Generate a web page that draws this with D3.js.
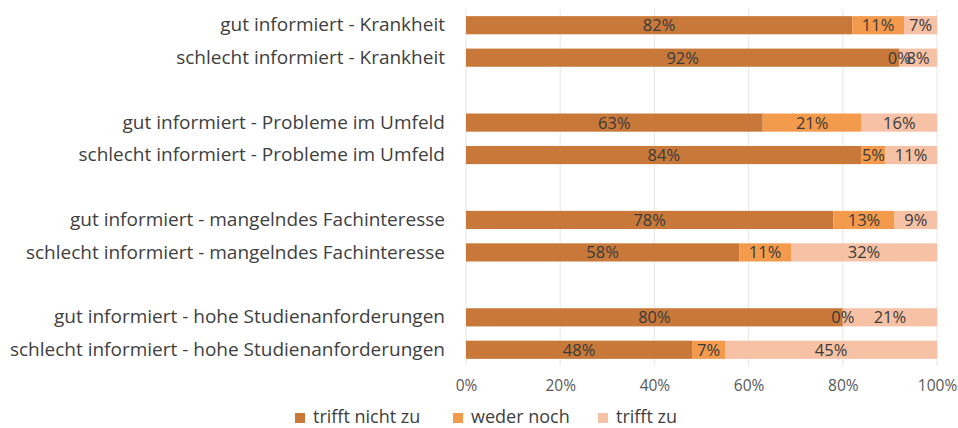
<!DOCTYPE html>
<html>
<head>
<meta charset="utf-8">
<script src="https://cdn.jsdelivr.net/npm/d3@7"></script>
<style>
  body { margin: 0; background: #fff; }
  text { font-family: "Open Sans", sans-serif; }
</style>
</head>
<body>
<div id="chart"></div>
<script>
// categories, blank strings are the gaps between the groups
let categories = [
    "gut informiert - Krankheit",
    "schlecht informiert - Krankheit",
    "",
    "gut informiert - Probleme im Umfeld",
    "schlecht informiert - Probleme im Umfeld",
    " ",
    "gut informiert - mangelndes Fachinteresse",
    "schlecht informiert - mangelndes Fachinteresse",
    "  ",
    "gut informiert - hohe Studienanforderungen",
    "schlecht informiert - hohe Studienanforderungen"
];
let seriesNames = ["trifft nicht zu", "weder noch", "trifft zu"];
let trifftNicht = [82, 92, null, 63, 84, null, 78, 58, null, 80, 48];
let wederNoch   = [11, 0, null, 21, 5, null, 13, 11, null, 0, 7];
let trifftZu    = [7, 8, null, 16, 11, null, 9, 32, null, 21, 45];
let ticks = [0, 20, 40, 60, 80, 100];
let colors = ["#c8793a", "#f39a4c", "#f6c1a4"];

let W = 958, H = 428;
let margin = {top: 9, right: 21, bottom: 62, left: 466};

let svg = d3.select("#chart").append("svg")
    .attr("width", W).attr("height", H);
let g = svg.append("g")
    .attr("transform", "translate(" + margin.left + "," + margin.top + ")");

let width = W - margin.left - margin.right;
let height = H - margin.top - margin.bottom;

let x = d3.scaleLinear().domain([0, 100]).range([0, width]).clamp(true);
let y = d3.scaleBand().domain(categories).range([0, height]).paddingInner(0.44).paddingOuter(0.22);

// gridlines
g.append("g").selectAll("line").data(ticks).join("line")
    .attr("x1", d => x(d)).attr("x2", d => x(d))
    .attr("y1", 0).attr("y2", height)
    .attr("stroke", "#e6e6e6").attr("stroke-width", 1);

let rows = categories.map((c, i) => ({
    cat: c, vals: [trifftNicht[i], wederNoch[i], trifftZu[i]]
})).filter(r => r.vals[0] !== null);

let segs = [];
rows.forEach(function(r) {
    let cum = 0;
    r.vals.forEach(function(v, j) {
        segs.push({cat: r.cat, v: v, j: j, x0: x(cum), x1: x(cum + v)});
        cum += v;
    });
});

let bars = g.append("g");
let labels = g.append("g");
segs.forEach(function(s) {
    bars.append("rect")
        .attr("x", s.x0).attr("y", y(s.cat))
        .attr("width", Math.max(0, s.x1 - s.x0)).attr("height", y.bandwidth())
        .attr("fill", colors[s.j]);
    labels.append("text")
        .attr("x", (s.x0 + s.x1) / 2).attr("y", y(s.cat) + y.bandwidth() / 2)
        .attr("dy", "0.36em").attr("text-anchor", "middle")
        .attr("font-size", 16.5).attr("fill", "#3a3a3a")
        .text(s.v + "%");
});

// category labels
let yAxis = d3.axisLeft(y).tickSize(0).tickPadding(21);
g.append("g").call(yAxis)
    .call(a => a.select(".domain").remove())
    .selectAll("text")
    .attr("font-size", 19).attr("fill", "#404040")
    .style("font-family", "'Open Sans', sans-serif");

// x axis labels
let xAxis = d3.axisBottom(x).tickValues(ticks).tickFormat(d => d + "%").tickSize(0).tickPadding(14);
g.append("g").attr("transform", "translate(0," + height + ")").call(xAxis)
    .call(a => a.select(".domain").remove())
    .selectAll("text")
    .attr("font-size", 15.5).attr("fill", "#595959")
    .style("font-family", "'Open Sans', sans-serif");

// legend
let legendX = [295, 453, 598];
let legend = svg.append("g").attr("transform", "translate(0,417)");
seriesNames.forEach(function(s, i) {
    legend.append("rect").attr("x", legendX[i]).attr("y", -4)
        .attr("width", 10).attr("height", 10).attr("fill", colors[i]);
    legend.append("text").attr("x", legendX[i] + 18).attr("y", 0).attr("dy", "0.36em")
        .attr("font-size", 18).attr("fill", "#404040").text(s);
});
</script>
</body>
</html>
